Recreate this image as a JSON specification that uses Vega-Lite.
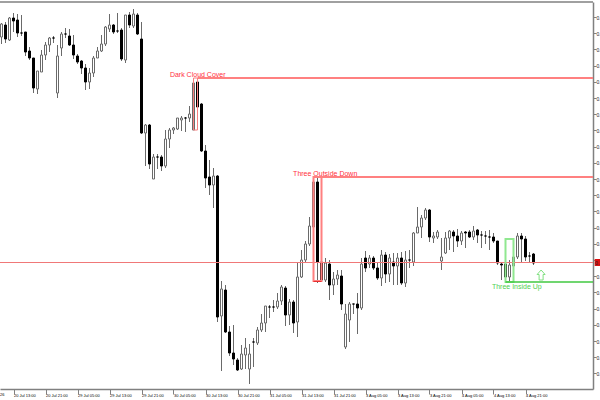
{"$schema":"https://vega.github.io/schema/vega-lite/v6.json","width":593,"height":387,"autosize":{"type":"none"},"padding":{"left":0,"top":2,"right":7,"bottom":11},"background":"white","config":{"view":{"stroke":null},"font":"Liberation Sans"},
"datasets":{"candles":[
{"i":0,"h":23,"l":44,"o":37,"c":24},{"i":1,"h":22,"l":43,"o":25,"c":39},{"i":2,"h":17,"l":41,"o":40,"c":18},{"i":3,"h":13,"l":32,"o":18,"c":21},{"i":4,"h":14,"l":37,"o":20,"c":33},{"i":5,"h":15,"l":36,"o":33,"c":33},{"i":6,"h":32,"l":56,"o":32,"c":52},{"i":7,"h":47,"l":60,"o":51,"c":58},{"i":8,"h":58,"l":93,"o":58,"c":88},{"i":9,"h":71,"l":94,"o":89,"c":71},{"i":10,"h":50,"l":72,"o":72,"c":55},{"i":11,"h":42,"l":60,"o":55,"c":45},{"i":12,"h":37,"l":52,"o":45,"c":38},{"i":13,"h":36,"l":43,"o":38,"c":38},{"i":14,"h":45,"l":98,"o":93,"c":56},{"i":15,"h":32,"l":56,"o":48,"c":34},{"i":16,"h":28,"l":38,"o":34,"c":34},{"i":17,"h":29,"l":46,"o":36,"c":45},{"i":18,"h":35,"l":59,"o":45,"c":55},{"i":19,"h":54,"l":64,"o":56,"c":62},
{"i":20,"h":60,"l":74,"o":61,"c":68},{"i":21,"h":64,"l":90,"o":68,"c":82},{"i":22,"h":68,"l":89,"o":82,"c":73},{"i":23,"h":56,"l":77,"o":73,"c":58},{"i":24,"h":47,"l":58,"o":58,"c":51},{"i":25,"h":35,"l":52,"o":51,"c":44},{"i":26,"h":26,"l":46,"o":44,"c":27},{"i":27,"h":14,"l":32,"o":29,"c":25},{"i":28,"h":24,"l":34,"o":25,"c":32},{"i":29,"h":13,"l":33,"o":31,"c":31},{"i":30,"h":28,"l":61,"o":30,"c":59},{"i":31,"h":15,"l":63,"o":60,"c":15},{"i":32,"h":12,"l":28,"o":15,"c":25},{"i":33,"h":9,"l":28,"o":26,"c":14},{"i":34,"h":13,"l":35,"o":15,"c":34},{"i":35,"h":22,"l":134,"o":39,"c":133},{"i":36,"h":124,"l":166,"o":133,"c":125},{"i":37,"h":124,"l":169,"o":125,"c":164},{"i":38,"h":154,"l":179,"o":179,"c":157},{"i":39,"h":154,"l":169,"o":157,"c":157},
{"i":40,"h":155,"l":171,"o":157,"c":166},{"i":41,"h":130,"l":168,"o":166,"c":139},{"i":42,"h":128,"l":148,"o":139,"c":130},{"i":43,"h":127,"l":134,"o":130,"c":128},{"i":44,"h":118,"l":130,"o":129,"c":118},{"i":45,"h":116,"l":131,"o":120,"c":118},{"i":46,"h":117,"l":132,"o":118,"c":118},{"i":47,"h":106,"l":122,"o":118,"c":114},{"i":48,"h":78,"l":130,"o":130,"c":83},{"i":49,"h":78,"l":130,"o":82,"c":107},{"i":50,"h":103,"l":152,"o":104,"c":151},{"i":51,"h":145,"l":188,"o":151,"c":178},{"i":52,"h":160,"l":195,"o":177,"c":185},{"i":53,"h":168,"l":208,"o":185,"c":176},{"i":54,"h":175,"l":322,"o":176,"c":317},{"i":55,"h":281,"l":371,"o":316,"c":289},{"i":56,"h":285,"l":333,"o":290,"c":332},{"i":57,"h":326,"l":356,"o":332,"c":353},{"i":58,"h":325,"l":365,"o":353,"c":359},{"i":59,"h":358,"l":371,"o":360,"c":370},
{"i":60,"h":345,"l":370,"o":369,"c":354},{"i":61,"h":338,"l":369,"o":355,"c":348},{"i":62,"h":344,"l":384,"o":369,"c":354},{"i":63,"h":338,"l":367,"o":342,"c":342},{"i":64,"h":327,"l":345,"o":343,"c":330},{"i":65,"h":314,"l":332,"o":330,"c":323},{"i":66,"h":306,"l":332,"o":323,"c":306},{"i":67,"h":305,"l":318,"o":307,"c":307},{"i":68,"h":300,"l":312,"o":307,"c":307},{"i":69,"h":293,"l":309,"o":307,"c":301},{"i":70,"h":285,"l":305,"o":301,"c":287},{"i":71,"h":286,"l":326,"o":288,"c":315},{"i":72,"h":299,"l":325,"o":315,"c":302},{"i":73,"h":300,"l":333,"o":302,"c":323},{"i":74,"h":262,"l":337,"o":322,"c":277},{"i":75,"h":250,"l":278,"o":277,"c":260},{"i":76,"h":241,"l":263,"o":260,"c":244},{"i":77,"h":217,"l":246,"o":244,"c":226},{"i":78,"h":178,"l":262,"o":227,"c":182},{"i":79,"h":178,"l":283,"o":182,"c":262},
{"i":80,"h":247,"l":281,"o":262,"c":280},{"i":81,"h":258,"l":282,"o":280,"c":263},{"i":82,"h":260,"l":300,"o":264,"c":285},{"i":83,"h":272,"l":295,"o":285,"c":279},{"i":84,"h":270,"l":285,"o":279,"c":275},{"i":85,"h":270,"l":310,"o":276,"c":304},{"i":86,"h":304,"l":349,"o":347,"c":314},{"i":87,"h":302,"l":342,"o":320,"c":304},{"i":88,"h":304,"l":314,"o":304,"c":304},{"i":89,"h":293,"l":334,"o":304,"c":308},{"i":90,"h":258,"l":310,"o":308,"c":264},{"i":91,"h":251,"l":272,"o":258,"c":268},{"i":92,"h":255,"l":268,"o":264,"c":258},{"i":93,"h":256,"l":270,"o":258,"c":268},{"i":94,"h":262,"l":280,"o":268,"c":278},{"i":95,"h":250,"l":286,"o":278,"c":255},{"i":96,"h":252,"l":283,"o":255,"c":274},{"i":97,"h":254,"l":282,"o":274,"c":258},{"i":98,"h":253,"l":285,"o":262,"c":266},{"i":99,"h":253,"l":285,"o":266,"c":258},
{"i":100,"h":252,"l":285,"o":258,"c":283},{"i":101,"h":251,"l":287,"o":283,"c":260},{"i":102,"h":250,"l":268,"o":260,"c":260},{"i":103,"h":232,"l":266,"o":262,"c":233},{"i":104,"h":207,"l":233,"o":233,"c":227},{"i":105,"h":215,"l":238,"o":227,"c":218},{"i":106,"h":208,"l":220,"o":218,"c":210},{"i":107,"h":209,"l":242,"o":210,"c":237},{"i":108,"h":232,"l":243,"o":238,"c":236},{"i":109,"h":230,"l":239,"o":237,"c":232},{"i":110,"h":238,"l":270,"o":261,"c":257},{"i":111,"h":232,"l":254,"o":253,"c":238},{"i":112,"h":230,"l":250,"o":238,"c":231},{"i":113,"h":230,"l":252,"o":232,"c":236},{"i":114,"h":229,"l":247,"o":236,"c":241},{"i":115,"h":231,"l":245,"o":241,"c":233},{"i":116,"h":231,"l":248,"o":232,"c":233},{"i":117,"h":230,"l":238,"o":232,"c":237},{"i":118,"h":226,"l":240,"o":237,"c":231},{"i":119,"h":229,"l":243,"o":230,"c":235},
{"i":120,"h":231,"l":248,"o":235,"c":235},{"i":121,"h":231,"l":244,"o":236,"c":236},{"i":122,"h":230,"l":250,"o":237,"c":237},{"i":123,"h":233,"l":243,"o":237,"c":241},{"i":124,"h":241,"l":265,"o":241,"c":263},{"i":125,"h":262,"l":280,"o":264,"c":265},{"i":126,"h":262,"l":281,"o":264,"c":277},{"i":127,"h":260,"l":282,"o":277,"c":265},{"i":128,"h":248,"l":266,"o":266,"c":257},{"i":129,"h":233,"l":259,"o":257,"c":236},{"i":130,"h":233,"l":262,"o":236,"c":239},{"i":131,"h":236,"l":261,"o":239,"c":257},{"i":132,"h":252,"l":262,"o":256,"c":256},{"i":133,"h":253,"l":265,"o":254,"c":263}]},
"layer":[
{"data":{"name":"candles"},"mark":{"type":"rule","color":"#6a6a6a","strokeWidth":1},"encoding":{
"x":{"field":"i","type":"quantitative","title":null,"scale":{"domain":[-0.375,147.875],"nice":false,"zero":false,"padding":0},"axis":{"orient":"bottom","grid":false,"title":null,"tickCount":40,"values":[3,11,19,27,35,43,51,59,67,75,83,91,99,107,115,123,131],"labelExpr":"{'3':'20 Jul 13:00','11':'20 Jul 21:00','19':'29 Jul 05:00','27':'29 Jul 13:00','35':'29 Jul 21:00','43':'30 Jul 05:00','51':'30 Jul 13:00','59':'30 Jul 21:00','67':'31 Jul 05:00','75':'31 Jul 13:00','83':'31 Jul 21:00','91':'3 Aug 05:00','99':'3 Aug 13:00','107':'3 Aug 21:00','115':'4 Aug 05:00','123':'4 Aug 13:00','131':'4 Aug 21:00'}[''+datum.value]","labelAlign":"left","labelBaseline":"top","labelFontSize":4,"labelColor":"#000","labelPadding":-1,"labelOverlap":false,"labelFlush":false,"labelBound":false,"tickSize":5,"tickColor":"#808080","domainColor":"#808080","domainWidth":1.5}},
"y":{"field":"h","type":"quantitative","title":null,"scale":{"domain":[389,2],"nice":false,"zero":false},"axis":{"orient":"right","grid":false,"title":null,"tickCount":40,"values":[17,33.2,49.4,65.6,81.8,98,114.2,130.4,146.6,162.8,179,195.2,211.4,227.6,243.8,260,276.2,292.4,308.6,324.8,341,357.2,373.4],"labelExpr":"datum.value==260?'':format(0.78-(datum.value-17)/16.2*0.0005,'.4f')","labelFontSize":5,"labelColor":"#222","labelPadding":0,"labelOverlap":false,"labelBound":false,"labelFlush":false,"tickSize":3,"tickColor":"#808080","domainColor":"#808080","domainWidth":1.5}},
"y2":{"field":"l"}}},
{"data":{"name":"candles"},"mark":{"type":"bar","orient":"vertical","width":2,"strokeWidth":1},"encoding":{
"x":{"field":"i","type":"quantitative","title":null},
"y":{"field":"o","type":"quantitative","title":null},"y2":{"field":"c"},
"fill":{"condition":{"test":"datum.c < datum.o","value":"#ffffff"},"value":"#000000"},
"stroke":{"condition":{"test":"datum.c < datum.o","value":"#6a6a6a"},"value":"#000000"}}},
{"data":{"values":[{"from":-0.375,"to":147.875,"y":262.5}]},"mark":{"type":"rule","color":"#f07878","strokeWidth":1},"encoding":{"x":{"field":"from","type":"quantitative","title":null},"x2":{"field":"to"},"y":{"field":"y","type":"quantitative","title":null}}},
{"data":{"values":[{"a":48,"b":49,"t":78,"u":130}]},"mark":{"type":"rect","filled":false,"stroke":"#f77f7f","strokeWidth":1},"encoding":{"x":{"field":"a","type":"quantitative","title":null},"x2":{"field":"b"},"y":{"field":"t","type":"quantitative","title":null},"y2":{"field":"u"}}},
{"data":{"values":[{"a":78,"b":80,"t":177,"u":281}]},"mark":{"type":"rect","filled":false,"stroke":"#ff8080","strokeWidth":2},"encoding":{"x":{"field":"a","type":"quantitative","title":null},"x2":{"field":"b"},"y":{"field":"t","type":"quantitative","title":null},"y2":{"field":"u"}}},
{"data":{"values":[{"a":126,"b":128,"t":239,"u":282}]},"mark":{"type":"rect","filled":false,"stroke":"#90e890","strokeWidth":2},"encoding":{"x":{"field":"a","type":"quantitative","title":null},"x2":{"field":"b"},"y":{"field":"t","type":"quantitative","title":null},"y2":{"field":"u"}}},
{"data":{"values":[{"from":49,"to":147.875,"y":78},{"from":80,"to":147.875,"y":177}]},"mark":{"type":"rule","color":"#ff8080","strokeWidth":2},"encoding":{"x":{"field":"from","type":"quantitative","title":null},"x2":{"field":"to"},"y":{"field":"y","type":"quantitative","title":null}}},
{"data":{"values":[{"from":78,"to":80,"y":281.5}]},"mark":{"type":"rule","color":"#e83030","strokeWidth":1},"encoding":{"x":{"field":"from","type":"quantitative","title":null},"x2":{"field":"to"},"y":{"field":"y","type":"quantitative","title":null}}},
{"data":{"values":[{"from":126,"to":147.875,"y":282}]},"mark":{"type":"rule","color":"#40c840","strokeWidth":1.5},"encoding":{"x":{"field":"from","type":"quantitative","title":null},"x2":{"field":"to"},"y":{"field":"y","type":"quantitative","title":null}}},
{"data":{"values":[{"y":2}]},"mark":{"type":"rule","color":"#808080","strokeWidth":1.5},"encoding":{"y":{"field":"y","type":"quantitative","title":null}}},
{"data":{"values":[{"t":"Dark Cloud Cover","i":42.1,"y":77},{"t":"Three Outside Down","i":72.9,"y":176}]},"mark":{"type":"text","align":"left","baseline":"alphabetic","fontSize":7,"color":"#ff3040"},"encoding":{"x":{"field":"i","type":"quantitative","title":null},"y":{"field":"y","type":"quantitative","title":null},"text":{"field":"t"}}},
{"data":{"values":[{"t":"Three Inside Up","i":122.6,"y":289}]},"mark":{"type":"text","align":"left","baseline":"alphabetic","fontSize":7,"color":"#50d050"},"encoding":{"x":{"field":"i","type":"quantitative","title":null},"y":{"field":"y","type":"quantitative","title":null},"text":{"field":"t"}}},
{"data":{"values":[{"i":134.9,"y":275}]},"mark":{"type":"point","filled":true,"fill":"#ffffff","stroke":"#80e080","strokeWidth":1,"opacity":1,"size":100,"shape":"M0,-1 L0.8,-0.1 L0.4,-0.1 L0.4,1 L-0.4,1 L-0.4,-0.1 L-0.8,-0.1 Z"},"encoding":{"x":{"field":"i","type":"quantitative","title":null},"y":{"field":"y","type":"quantitative","title":null}}},
{"data":{"values":[{"a":148.3,"b":150,"t":259,"u":266}]},"mark":{"type":"rect","fill":"#dd1111"},"encoding":{"x":{"field":"a","type":"quantitative","title":null},"x2":{"field":"b"},"y":{"field":"t","type":"quantitative","title":null},"y2":{"field":"u"}}},
{"data":{"values":[{"t":"0.7","i":148.4,"y":264.5}]},"mark":{"type":"text","align":"left","baseline":"alphabetic","fontSize":5,"color":"#222222"},"encoding":{"x":{"field":"i","type":"quantitative","title":null},"y":{"field":"y","type":"quantitative","title":null},"text":{"field":"t"}}},
{"data":{"values":[{"t":"26","i":-0.375,"y":396}]},"mark":{"type":"text","align":"left","baseline":"alphabetic","fontSize":4,"color":"#000000"},"encoding":{"x":{"field":"i","type":"quantitative","title":null},"y":{"field":"y","type":"quantitative","title":null},"text":{"field":"t"}}}
]}
